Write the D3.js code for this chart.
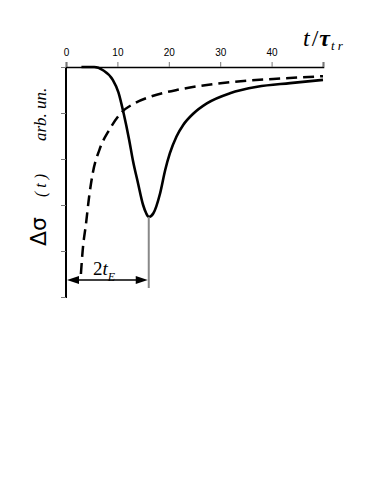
<!DOCTYPE HTML>
<html>
    <head>
        <title>Delta sigma transient</title>
        <script src="https://d3js.org/d3.v7.min.js"></script>
        <style>
            body{ margin:0; background:#fff; }
            .tick text{ font: 10px "Liberation Sans", sans-serif; fill:#000; }
            .tick line{ stroke:#777; }
            .math{ font-family:"Liberation Serif", serif; font-style:italic; fill:#000; }
        </style>
    </head>
    <body>
        <svg class="chart"></svg>
        <script>
            // values, y = depth of the signal (arb. un.)
            let xTicks=[0,10,20,30,40,50];
            let yTicks=[0,1,2,3,4,5];
            let solidT=[3,5.5,7.2,9.1,10.2,11.2,12.3,13.0,14.0,15.0,15.6,16.1,17.0,18.3,19.3,20.2,21.5,22.8,24.8,27.4,31.9,37.2,43.6,50];
            let solidV=[0,0,0.07,0.28,0.55,1.0,1.59,2.02,2.52,3.0,3.18,3.26,3.18,2.75,2.24,1.88,1.51,1.26,1.01,0.79,0.57,0.43,0.35,0.28];
            let dashT=[2.9,3.25,3.9,4.5,5.2,6.5,8.4,10.7,13.5,16.3,22,27.4,31.9,40.3,50];
            let dashV=[4.5,3.98,3.4,2.82,2.31,1.8,1.37,1.0,0.78,0.65,0.49,0.39,0.33,0.26,0.2];
            let tMin=16.1; // position of the minimum, 2t_E

            let width=385,height=498;
            let x=d3.scaleLinear().domain([0,50]).range([66,323]);
            let y=d3.scaleLinear().domain([0,5]).range([67,297]);

            let svg=d3.select('.chart').attr('width',width).attr('height',height);

            // top axis
            let xAxis=svg.append('g').attr('transform','translate(0,'+y(0)+')')
                .call(d3.axisTop(x).tickValues(xTicks).tickSize(5).tickPadding(6)
                    .tickFormat(d=>d==50?'':d));
            xAxis.select('.domain').attr('stroke','#000').attr('stroke-width',1.6);

            // left axis
            let yAxis=svg.append('g').attr('transform','translate('+x(0)+',0)')
                .call(d3.axisLeft(y).tickValues(yTicks).tickSize(5).tickFormat(''));
            yAxis.select('.domain').attr('stroke','#000').attr('stroke-width',2).attr('d','M0,'+y(0)+'V'+(y(5)+1));

            let line=d3.line().x(d=>x(d[0])).y(d=>y(d[1])).curve(d3.curveMonotoneX);

            svg.append('path').datum(dashT.map((t,i)=>[t,dashV[i]]))
                .attr('d',line).attr('fill','none').attr('stroke','#000')
                .attr('stroke-width',2.5).attr('stroke-dasharray','11,6');

            svg.append('path').datum(solidT.map((t,i)=>[t,solidV[i]]))
                .attr('d',line).attr('fill','none').attr('stroke','#000')
                .attr('stroke-width',2.6);

            // marker of the minimum
            svg.append('line').attr('x1',x(tMin)).attr('x2',x(tMin))
                .attr('y1',y(3.26)).attr('y2',288)
                .attr('stroke','#888').attr('stroke-width',2);

            // double arrow 0 .. tMin
            let ay=280,x0=x(0)+1,x1=x(tMin)-1;
            svg.append('line').attr('x1',x0+8).attr('x2',x1-8).attr('y1',ay).attr('y2',ay)
                .attr('stroke','#000').attr('stroke-width',1.6);
            svg.append('path').attr('d','M'+x0+','+ay+'l12,-4l0,8z').attr('fill','#000');
            svg.append('path').attr('d','M'+x1+','+ay+'l-12,-4l0,8z').attr('fill','#000');

            let lab=svg.append('text').attr('class','math').attr('x',93).attr('y',275).attr('font-size',19);
            lab.append('tspan').attr('font-style','normal').text('2');
            lab.append('tspan').text('t');
            lab.append('tspan').attr('font-size',12).attr('dy',6).text('E');

            // axis titles
            let xt=svg.append('text').attr('class','math').attr('x',303).attr('y',46).attr('font-size',24);
            xt.append('tspan').text('t');
            xt.append('tspan').attr('font-style','normal').attr('dx',2).text('/');
            xt.append('tspan').attr('font-weight','bold').attr('dx',1).text('τ');
            xt.append('tspan').attr('font-size',13).attr('dy',4).attr('dx',1).text('t r');

            let yt=svg.append('g').attr('transform','translate(46,0) rotate(-90)');
            yt.append('text').attr('x',-246).attr('font-size',22)
                .attr('font-family','"DejaVu Sans", sans-serif').text('Δσ');
            yt.append('text').attr('class','math').attr('x',-197).attr('font-size',16).text('( t )');
            yt.append('text').attr('class','math').attr('x',-141).attr('font-size',17).text('arb.  un.');
        </script>
    </body>
</html>
